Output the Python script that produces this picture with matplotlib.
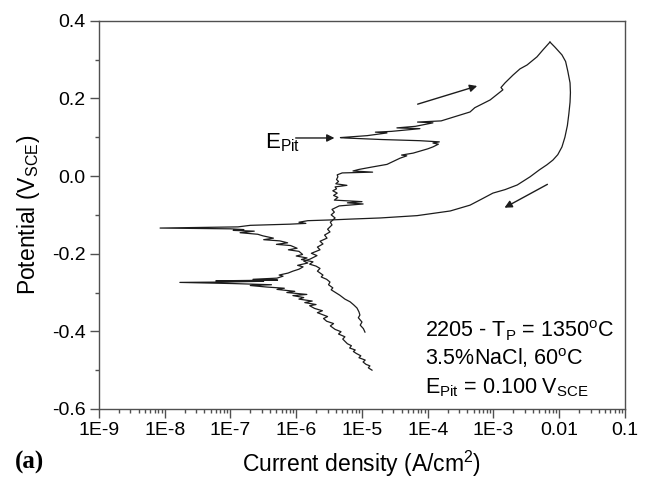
import matplotlib
matplotlib.use("Agg")
import matplotlib.pyplot as plt
from matplotlib.ticker import LogLocator, MultipleLocator, NullFormatter

# forward scan: cathodic branch (from -0.5 V) -> Ecorr -> pitting -> top of loop
fwd_i = [1.42e-5, 1.25e-5, 1.32e-5, 1.15e-5, 1.04e-5, 1.12e-5, 9.0e-6, 9.6e-6,
         8.2e-6, 7.4e-6, 7.9e-6, 6.5e-6, 6.9e-6, 6.0e-6, 5.1e-6, 5.5e-6,
         4.4e-6, 4.8e-6, 3.9e-6, 3.3e-6, 3.7e-6, 2.9e-6, 2.6e-6, 3.0e-6,
         2.1e-6, 2.5e-6, 1.9e-6, 1.6e-6, 2.0e-6, 1.35e-6, 1.75e-6, 1.1e-6,
         1.3e-6, 8.9e-7, 1.45e-6, 7.2e-7, 9.5e-7, 5.1e-7, 6.6e-7, 3.6e-7,
         2.0e-7, 4.2e-7, 1.1e-7, 1.7e-8, 9.0e-8, 3.2e-7, 6.0e-8, 5.2e-7,
         2.2e-7, 5.1e-7, 6.3e-7, 5.5e-7, 7.5e-7, 8.9e-7, 1.1e-6, 1.27e-6,
         1.05e-6, 1.5e-6, 1.3e-6, 1.62e-6, 2.07e-6, 1.7e-6, 2.3e-6, 2.1e-6,
         2.55e-6, 2.3e-6, 2.94e-6, 2.7e-6, 3.26e-6, 3.0e-6, 3.5e-6, 3.3e-6,
         3.62e-6, 3.9e-6, 3.4e-6, 3.8e-6, 3.5e-6, 3.9e-6, 4.5e-6, 1.04e-5,
         6.0e-6, 1.0e-5, 3.8e-6, 4.3e-6, 3.7e-6, 4.2e-6, 3.6e-6, 4.1e-6,
         3.9e-6, 5.9e-6, 4.0e-6, 4.4e-6, 4.1e-6, 4.3e-6, 4.2e-6, 5.0e-6,
         1.45e-5, 7.3e-6, 9.0e-6, 1.4e-5, 2.4e-5, 3.8e-5, 4.8e-5, 4.0e-5,
         6.0e-5, 1.0e-4, 1.2e-4, 1.45e-4, 1.2e-4, 1.5e-4, 7.6e-5, 2.0e-5,
         5.5e-6, 4.7e-6, 1.2e-5, 2.4e-5, 1.6e-5, 2.8e-5, 7.6e-5, 3.4e-5,
         6.5e-5, 1.2e-4, 7.0e-5, 1.6e-4, 3.1e-4, 4.4e-4, 5.2e-4, 8.9e-4,
         1.39e-3, 1.3e-3, 1.5e-3, 1.98e-3, 2.53e-3, 3.24e-3, 4.59e-3, 5.66e-3,
         7.23e-3]
fwd_e = [-0.500, -0.494, -0.489, -0.485, -0.479, -0.474, -0.468, -0.463,
         -0.457, -0.452, -0.448, -0.443, -0.437, -0.432, -0.420, -0.414,
         -0.407, -0.401, -0.395, -0.386, -0.380, -0.374, -0.367, -0.362,
         -0.352, -0.347, -0.341, -0.334, -0.331, -0.326, -0.322, -0.317,
         -0.313, -0.308, -0.305, -0.300, -0.297, -0.292, -0.289, -0.286,
         -0.282, -0.280, -0.277, -0.274, -0.273, -0.271, -0.270, -0.268,
         -0.266, -0.263, -0.258, -0.255, -0.250, -0.245, -0.240, -0.234,
         -0.230, -0.224, -0.219, -0.214, -0.205, -0.199, -0.190, -0.183,
         -0.175, -0.168, -0.160, -0.152, -0.144, -0.137, -0.126, -0.119,
         -0.113, -0.108, -0.100, -0.093, -0.086, -0.082, -0.077, -0.072,
         -0.069, -0.066, -0.062, -0.055, -0.050, -0.044, -0.038, -0.033,
         -0.028, -0.024, -0.020, -0.014, -0.009, -0.002, 0.003, 0.008,
         0.010, 0.013, 0.017, 0.023, 0.030, 0.046, 0.052, 0.054,
         0.059, 0.070, 0.075, 0.082, 0.085, 0.088, 0.091, 0.094,
         0.098, 0.099, 0.104, 0.111, 0.113, 0.115, 0.122, 0.124,
         0.128, 0.137, 0.139, 0.142, 0.157, 0.165, 0.176, 0.196,
         0.222, 0.228, 0.240, 0.260, 0.276, 0.286, 0.307, 0.325,
         0.345]

# reverse scan: top of loop -> repassivation -> second Ecorr -> cathodic end
rev_i = [7.23e-3, 8.6e-3, 1.10e-2, 1.25e-2, 1.35e-2, 1.46e-2, 1.48e-2, 1.46e-2,
         1.40e-2, 1.33e-2, 1.22e-2, 1.10e-2, 9.5e-3, 8.0e-3, 6.5e-3, 5.0e-3,
         3.6e-3, 2.3e-3, 1.5e-3, 9.8e-4, 6.5e-4, 4.4e-4, 2.2e-4, 6.9e-5,
         1.9e-5, 6.5e-6, 3.5e-6, 1.5e-6, 1.1e-6, 1.4e-6, 8.0e-7, 2.0e-7,
         1.3e-7, 8.5e-9, 1.0e-7, 1.6e-7, 1.1e-7, 2.3e-7, 1.4e-7, 2.6e-7,
         3.1e-7, 4.5e-7, 3.2e-7, 5.6e-7, 7.4e-7, 5.0e-7, 8.2e-7, 1.03e-6,
         7.6e-7, 1.1e-6, 1.25e-6, 1.0e-6, 1.46e-6, 1.2e-6, 1.8e-6, 1.6e-6,
         2.0e-6, 2.3e-6, 2.1e-6, 2.55e-6, 2.4e-6, 2.9e-6, 3.26e-6, 3.1e-6,
         3.6e-6, 3.4e-6, 4.6e-6, 5.5e-6, 6.6e-6, 7.5e-6, 8.4e-6, 9.0e-6,
         9.3e-6, 8.8e-6, 1.0e-5, 9.4e-6, 1.05e-5, 1.11e-5]
rev_e = [0.345, 0.332, 0.312, 0.295, 0.270, 0.240, 0.215, 0.190,
         0.160, 0.130, 0.100, 0.075, 0.055, 0.041, 0.029, 0.016,
         -0.002, -0.023, -0.035, -0.044, -0.060, -0.075, -0.090, -0.102,
         -0.108, -0.111, -0.113, -0.115, -0.119, -0.122, -0.124, -0.127,
         -0.131, -0.134, -0.136, -0.138, -0.140, -0.142, -0.146, -0.150,
         -0.154, -0.160, -0.164, -0.167, -0.172, -0.176, -0.179, -0.186,
         -0.190, -0.194, -0.202, -0.206, -0.211, -0.215, -0.221, -0.227,
         -0.232, -0.238, -0.245, -0.255, -0.260, -0.266, -0.273, -0.280,
         -0.288, -0.293, -0.307, -0.317, -0.324, -0.332, -0.340, -0.350,
         -0.358, -0.365, -0.376, -0.384, -0.393, -0.402]

xticks = [1e-9, 1e-8, 1e-7, 1e-6, 1e-5, 1e-4, 1e-3, 1e-2, 1e-1]
xtick_labels = ["1E-9", "1E-8", "1E-7", "1E-6", "1E-5", "1E-4", "1E-3", "0.01", "0.1"]
yticks = [-0.6, -0.4, -0.2, 0.0, 0.2, 0.4]
ytick_labels = ["-0.6", "-0.4", "-0.2", "0.0", "0.2", "0.4"]

# scan direction arrows and the E_pit marker
arrow_up = [(6.4e-5, 0.183), (6.2e-4, 0.234)]
arrow_down = [(7.2e-3, -0.018), (1.35e-3, -0.085)]
epit_arrow = [(8.9e-7, 0.098), (4.2e-6, 0.098)]

plt.rcParams["font.family"] = ["Liberation Sans", "DejaVu Sans"]
plt.rcParams["mathtext.fontset"] = "custom"
plt.rcParams["mathtext.rm"] = "Liberation Sans"
plt.rcParams["mathtext.it"] = "Liberation Sans:italic"
plt.rcParams["mathtext.bf"] = "Liberation Sans:bold"

fig = plt.figure(figsize=(6.49, 4.82), dpi=100)
ax = fig.add_axes([0.1525, 0.1515, 0.8105, 0.8055])

line_col = "#1c1c1c"
ax.plot(fwd_i, fwd_e, color=line_col, lw=0.9)
ax.plot(rev_i, rev_e, color=line_col, lw=0.9)

ax.set_xscale("log")
ax.set_xlim(1e-9, 0.1)
ax.set_ylim(-0.6, 0.4)
ax.set_xticks(xticks)
ax.set_xticklabels(xtick_labels)
ax.xaxis.set_minor_locator(LogLocator(base=10, subs=range(2, 10), numticks=20))
ax.xaxis.set_minor_formatter(NullFormatter())
ax.set_yticks(yticks)
ax.set_yticklabels(ytick_labels)
ax.yaxis.set_minor_locator(MultipleLocator(0.1))

for s in ax.spines.values():
    s.set_color("#505050")
    s.set_linewidth(1.0)
ax.tick_params(which="major", direction="out", length=6.5, width=1, color="#505050",
               labelsize=14, labelcolor="black", pad=3)
ax.tick_params(which="minor", direction="out", length=3, width=1, color="#505050")

ax.set_xlabel("Current density (A/cm$^2$)", fontsize=16.5, labelpad=7)
ax.set_ylabel("Potential (V$_{\\rm SCE}$)", fontsize=16.5, labelpad=7)

arrow_kw = dict(arrowstyle="-|>", color=line_col, lw=1.0, mutation_scale=11)
ax.annotate("", xy=arrow_up[1], xytext=arrow_up[0], arrowprops=arrow_kw)
ax.annotate("", xy=arrow_down[1], xytext=arrow_down[0], arrowprops=arrow_kw)
ax.annotate("", xy=epit_arrow[1], xytext=epit_arrow[0], arrowprops=arrow_kw)
ax.text(3.35e-7, 0.072, "E$_{\\rm Pit}$", fontsize=16, ha="left", va="baseline")

ax.text(0.62, 0.185, "2205 - T$_{\\rm P}$ = 1350$^{\\rm o}$C", transform=ax.transAxes,
        fontsize=15.5, va="baseline")
ax.text(0.62, 0.113, "3.5%NaCl, 60$^{\\rm o}$C", transform=ax.transAxes,
        fontsize=15.5, va="baseline")
ax.text(0.62, 0.039, "E$_{\\rm Pit}$ = 0.100 V$_{\\rm SCE}$", transform=ax.transAxes,
        fontsize=15.5, va="baseline")

fig.text(15 / 649, 1 - 462 / 482, "(a)", fontsize=18, fontweight="bold",
         family="Liberation Serif", va="center", ha="left")

fig.savefig("out.png", dpi=100)
